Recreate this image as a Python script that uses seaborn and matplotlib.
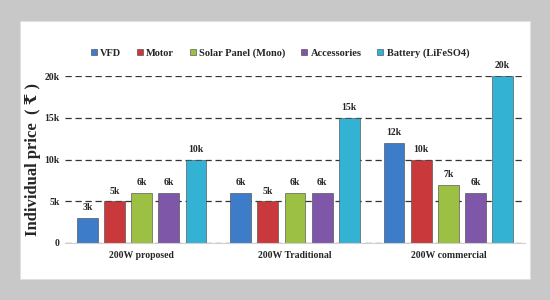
import matplotlib
matplotlib.use("Agg")
import matplotlib.pyplot as plt
from matplotlib.patches import Rectangle
import pandas as pd
import seaborn as sns

systems = ["200W proposed", "200W Traditional", "200W commercial"]
components = ["VFD", "Motor", "Solar Panel (Mono)", "Accessories", "Battery (LiFeSO4)"]
vfd = [3000, 6000, 12000]
motor = [5000, 5000, 10000]
solar = [6000, 6000, 7000]
accessories = [6000, 6000, 6000]
battery = [10000, 15000, 20000]
colors = ["#3d7cc9", "#c9383a", "#9cc044", "#7e57a8", "#33b2d4"]
yticks = [0, 5000, 10000, 15000, 20000]
ytick_labels = ["0", "5k", "10k", "15k", "20k"]

rows = []
for comp, vals in zip(components, [vfd, motor, solar, accessories, battery]):
    for sys_name, v in zip(systems, vals):
        rows.append({"system": sys_name, "component": comp, "price": v})
df = pd.DataFrame(rows)

sns.set_style("white")
plt.rcParams["font.family"] = ["Liberation Serif", "DejaVu Serif", "DejaVu Sans"]
plt.rcParams["font.weight"] = "bold"

fig = plt.figure(figsize=(5.5, 3.0), dpi=100)
fig.patch.set_facecolor("#c8c8c8")
# white inner panel
fig.patches.append(Rectangle((20 / 550, 21 / 300), 510 / 550, 258 / 300,
                             transform=fig.transFigure, facecolor="white",
                             edgecolor="#e0e0e0", linewidth=0.8, zorder=-10))

ax = fig.add_axes([65 / 550, 57 / 300, 460 / 550, 167 / 300])
ax.set_facecolor("none")

sns.barplot(data=df, x="system", y="price", hue="component", order=systems,
            hue_order=components, palette=colors, width=0.886, gap=0.23,
            saturation=1, edgecolor="#404040", linewidth=0.4, ax=ax, zorder=3)

for cont in ax.containers:
    labels = [f"{int(b.get_height() / 1000)}k" for b in cont]
    ax.bar_label(cont, labels=labels, padding=4, fontsize=7, fontweight="bold",
                 clip_on=False)

ax.set_ylim(0, 20000)
ax.set_xlim(-0.5, 2.5)
ax.set_yticks(yticks)
ax.set_yticklabels(ytick_labels)
ax.yaxis.grid(True, linestyle=(0, (5, 3)), color="#333333", linewidth=0.9)
ax.set_axisbelow(True)
ax.tick_params(axis="y", labelsize=7, length=0, pad=4)
ax.tick_params(axis="x", labelsize=7, length=0, pad=6)
for lbl in ax.get_xticklabels() + ax.get_yticklabels():
    lbl.set_fontweight("bold")

for s in ["left", "top", "right"]:
    ax.spines[s].set_visible(False)
ax.spines["bottom"].set_color("#d0d0d0")
ax.spines["bottom"].set_zorder(4)

ax.set_xlabel("")
ax.set_ylabel("Individual price  ( ₹ )", fontsize=12, fontweight="bold", labelpad=2)

leg = ax.legend(loc="center", bbox_to_anchor=(280 / 550, 247 / 300),
                bbox_transform=fig.transFigure, ncol=5, frameon=False,
                fontsize=7.5, handlelength=0.6, handleheight=0.6,
                handletextpad=0.3, columnspacing=1.5)
for t in leg.get_texts():
    t.set_fontweight("bold")

fig.savefig("out.png", dpi=100, facecolor=fig.get_facecolor())
